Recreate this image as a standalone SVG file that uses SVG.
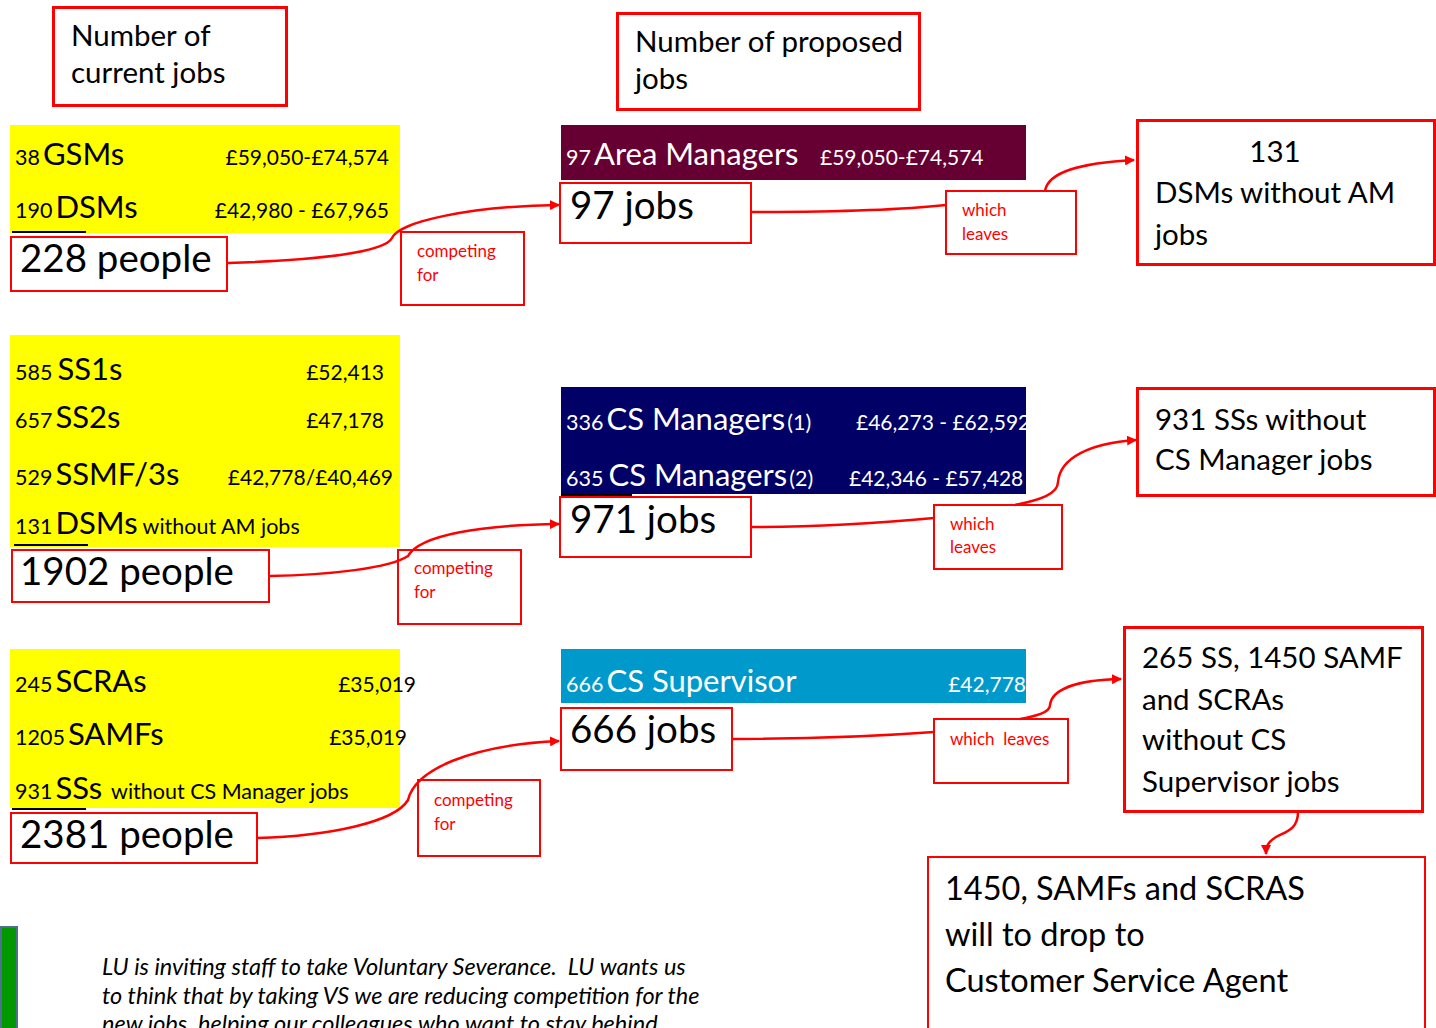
<svg xmlns="http://www.w3.org/2000/svg" width="1436" height="1028" viewBox="0 0 1436 1028">
<style>
text{font-family:Lato,"Liberation Sans",sans-serif;}
.box{fill:#fff;stroke:#f00;stroke-width:2}
.hbox{fill:#fff;stroke:#f00;stroke-width:3}
.lbl{fill:#f00;font-size:17px}
.big{font-size:38.500px;fill:#000}
.hd{font-size:29.500px;fill:#000}
.sm{font-size:21.500px}
.md{font-size:31px}
.sal{font-size:21px}
.w{fill:#fff}
.k{fill:#000}
.it{font-size:23.500px;font-style:italic;fill:#000}
.conn{fill:none;stroke:#f00;stroke-width:2.5}
.ul{stroke:#000;stroke-width:2}
</style>
<defs>
<marker id="ah" markerWidth="10" markerHeight="10" refX="9" refY="5" orient="auto" markerUnits="userSpaceOnUse" viewBox="0 0 10 10">
<path d="M0,0 L10,5 L0,10 z" fill="#f00"/>
</marker>
</defs>

<g id="hdr-current"><rect class="hbox" x="53.500" y="7.500" width="233" height="98"/><text class="hd" x="71" y="46">Number of</text><text class="hd" x="71" y="83">current jobs</text></g>
<g id="hdr-proposed"><rect class="hbox" x="617.500" y="13.500" width="302" height="96"/><text class="hd" x="635" y="52">Number of proposed</text><text class="hd" x="635" y="89">jobs</text></g>

<g id="current-1">
<rect x="10" y="125" width="390" height="108" fill="#ff0"/>
<text class="k" y="165"><tspan x="15" class="sm">38</tspan><tspan class="md" dx="3">GSMs</tspan></text>
<text class="k sal" x="389" y="165" text-anchor="end">£59,050-£74,574</text>
<text class="k" y="218"><tspan x="15" class="sm">190</tspan><tspan class="md" dx="3">DSMs</tspan></text>
<text class="k sal" x="389" y="218" text-anchor="end">£42,980 - £67,965</text>
<line class="ul" x1="12" y1="232" x2="86" y2="232"/>
</g>
<g id="people-1"><rect class="box" x="11" y="237" width="216" height="54"/><text class="big" x="20" y="272">228 people</text></g>
<g id="comp-1"><rect class="box" x="401" y="232" width="123" height="73"/><text class="lbl" x="417" y="257">competing</text><text class="lbl" x="417" y="281">for</text></g>

<g id="proposed-1">
<rect x="561" y="125" width="465" height="55" fill="#660033"/>
<text class="w" y="165"><tspan x="566" class="sm">97</tspan><tspan class="md" dx="3">Area Managers</tspan></text>
<text class="w sal" x="820" y="165">£59,050-£74,574</text>
</g>
<g id="jobs-1"><rect class="box" x="560" y="183" width="191" height="60"/><text class="big" x="570" y="219">97 jobs</text></g>
<g id="leaves-1"><rect class="box" x="946" y="191" width="130" height="63"/><text class="lbl" x="962" y="216">which</text><text class="lbl" x="962" y="240">leaves</text></g>
<g id="result-1"><rect class="hbox" x="1137.500" y="120.500" width="297" height="144"/><text class="hd" x="1275" y="162" text-anchor="middle">131</text><text class="hd" x="1155" y="203">DSMs without AM</text><text class="hd" x="1155" y="245">jobs</text></g>

<g id="current-2">
<rect x="10" y="335" width="390" height="212" fill="#ff0"/>
<text class="k" y="380"><tspan x="15" class="sm">585</tspan><tspan class="md" dx="5">SS1s</tspan></text>
<text class="k sal" x="384" y="380" text-anchor="end">£52,413</text>
<text class="k" y="428"><tspan x="15" class="sm">657</tspan><tspan class="md" dx="3">SS2s</tspan></text>
<text class="k sal" x="384" y="428" text-anchor="end">£47,178</text>
<text class="k" y="485"><tspan x="15" class="sm">529</tspan><tspan class="md" dx="3">SSMF/3s</tspan></text>
<text class="k sal" x="393" y="485" text-anchor="end">£42,778/£40,469</text>
<text class="k" y="534"><tspan x="15" class="sm">131</tspan><tspan class="md" dx="3">DSMs</tspan><tspan class="sm" dx="5">without AM jobs</tspan></text>
<line class="ul" x1="14" y1="545" x2="88" y2="545"/>
</g>
<g id="people-2"><rect class="box" x="12" y="550" width="257" height="52"/><text class="big" x="20" y="585">1902 people</text></g>
<g id="comp-2"><rect class="box" x="398" y="550" width="123" height="74"/><text class="lbl" x="414" y="574">competing</text><text class="lbl" x="414" y="598">for</text></g>

<g id="proposed-2">
<svg x="561" y="387" width="465" height="107" overflow="hidden">
<rect x="0" y="0" width="465" height="107" fill="#000066"/>
<text class="w" y="43"><tspan x="5" class="sm">336</tspan><tspan class="md" dx="3">CS Managers</tspan><tspan class="sm" dx="2">(1)</tspan></text>
<text class="w sal" x="295" y="43">£46,273 - £62,592</text>
<text class="w" y="99"><tspan x="5" class="sm">635</tspan><tspan class="md" dx="5">CS Managers</tspan><tspan class="sm" dx="2">(2)</tspan></text>
<text class="w sal" x="288" y="99">£42,346 - £57,428</text>
</svg>
<line class="ul" x1="561" y1="495" x2="632" y2="495"/>
</g>
<g id="jobs-2"><rect class="box" x="560" y="497" width="191" height="60"/><text class="big" x="570" y="533">971 jobs</text></g>
<g id="leaves-2"><rect class="box" x="934" y="505" width="128" height="64"/><text class="lbl" x="950" y="530">which</text><text class="lbl" x="950" y="553">leaves</text></g>
<g id="result-2"><rect class="hbox" x="1137.500" y="388.500" width="297" height="107"/><text class="hd" x="1155" y="430">931 SSs without</text><text class="hd" x="1155" y="470">CS Manager jobs</text></g>

<g id="current-3">
<rect x="10" y="649" width="390" height="159" fill="#ff0"/>
<text class="k" y="692"><tspan x="15" class="sm">245</tspan><tspan class="md" dx="3">SCRAs</tspan></text>
<text class="k sal" x="416" y="692" text-anchor="end">£35,019</text>
<text class="k" y="745"><tspan x="15" class="sm">1205</tspan><tspan class="md" dx="3">SAMFs</tspan></text>
<text class="k sal" x="407" y="745" text-anchor="end">£35,019</text>
<text class="k" y="799"><tspan x="15" class="sm">931</tspan><tspan class="md" dx="3">SSs</tspan><tspan class="sm" dx="9">without CS Manager jobs</tspan></text>
<line class="ul" x1="12" y1="809" x2="86" y2="809"/>
</g>
<g id="people-3"><rect class="box" x="11" y="813" width="246" height="50"/><text class="big" x="20" y="848">2381 people</text></g>
<g id="comp-3"><rect class="box" x="418" y="780" width="122" height="76"/><text class="lbl" x="434" y="806">competing</text><text class="lbl" x="434" y="830">for</text></g>

<g id="proposed-3">
<rect x="561" y="649" width="465" height="54" fill="#0099cc"/>
<text class="w" y="692"><tspan x="566" class="sm">666</tspan><tspan class="md" dx="3">CS Supervisor</tspan></text>
<text class="w sal" x="1026" y="692" text-anchor="end">£42,778</text>
</g>
<g id="jobs-3"><rect class="box" x="561" y="708" width="171" height="62"/><text class="big" x="570" y="743">666 jobs</text></g>
<g id="leaves-3"><rect class="box" x="934" y="719" width="134" height="64"/><text class="lbl" x="950" y="745" xml:space="preserve">which  leaves</text></g>
<g id="result-3"><rect class="hbox" x="1124.500" y="627.500" width="298" height="184"/><text class="hd" x="1142" y="668">265 SS, 1450 SAMF</text><text class="hd" x="1142" y="710">and SCRAs</text><text class="hd" x="1142" y="750">without CS</text><text class="hd" x="1142" y="792">Supervisor jobs</text></g>
<g id="result-4"><rect class="box" x="928" y="857" width="497" height="180"/><text class="k" style="font-size:32.500px" x="945" y="900">1450, SAMFs and SCRAS</text><text class="k" style="font-size:32.500px" x="945" y="946">will to drop to</text><text class="k" style="font-size:32.500px" x="945" y="992">Customer Service Agent</text></g>

<g id="note">
<rect x="1" y="927" width="16" height="110" fill="#009900" stroke="#4f6f8f" stroke-width="2"/>
<text class="it" x="102" y="975" xml:space="preserve">LU is inviting staff to take Voluntary Severance.  LU wants us</text>
<text class="it" x="102" y="1004">to think that by taking VS we are reducing competition for the</text>
<text class="it" x="102" y="1032">new jobs, helping our colleagues who want to stay behind</text>
</g>

<g id="connectors">
<path class="conn" d="M228,263 C320,260 385,252 392,238 C398,222 470,206 559,205" marker-end="url(#ah)"/>
<path class="conn" d="M269,576 C330,575 390,568 408,556 C420,535 480,525 559,524" marker-end="url(#ah)"/>
<path class="conn" d="M257,838 C330,836 395,822 408,800 C415,770 470,745 559,741" marker-end="url(#ah)"/>
<path class="conn" d="M751,212 C820,212 900,210 946,205"/>
<path class="conn" d="M751,527 C830,527 890,522 934,518"/>
<path class="conn" d="M732,739 C810,739 880,736 934,732"/>
<path class="conn" d="M1045,191 C1048,172 1080,163 1134,160" marker-end="url(#ah)"/>
<path class="conn" d="M1015,505 C1040,500 1058,494 1058,482 C1060,458 1090,443 1136,440" marker-end="url(#ah)"/>
<path class="conn" d="M1020,719 C1035,716 1050,713 1050,705 C1052,688 1080,680 1121,679" marker-end="url(#ah)"/>
<path class="conn" d="M1298,812 C1298,830 1285,832 1276,837 C1268,842 1266,846 1266,854" marker-end="url(#ah)"/>
</g>
</svg>
